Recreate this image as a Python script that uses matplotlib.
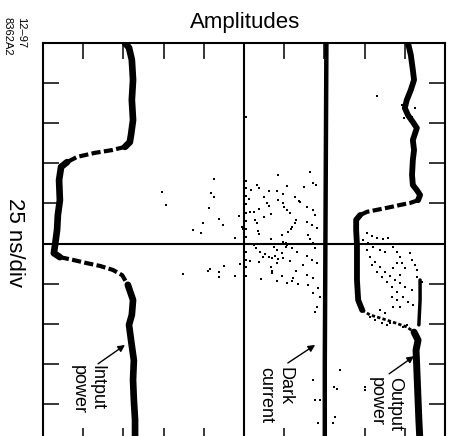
import matplotlib
matplotlib.use("Agg")
import matplotlib.pyplot as plt

plt.rcParams['font.family'] = ['Liberation Sans', 'DejaVu Sans']

# Amplitude (divisions, left→right) versus time (divisions of 25 ns, top→bottom)
input_amp = [2.04, 2.14, 2.21, 2.24, 2.21, 2.24, 2.19, 2.16, 2.04, 1.72, 1.29, 0.85,
             0.60, 0.45, 0.40, 0.42, 0.37, 0.35, 0.30, 0.27, 0.42, 0.75, 1.09, 1.42,
             1.74, 1.97, 2.11, 2.24, 2.21, 2.14, 2.19, 2.26, 2.24, 2.26, 2.29, 2.29]
input_t = [0.00, 0.12, 0.42, 0.92, 1.42, 1.92, 2.29, 2.47, 2.59, 2.67, 2.74, 2.84,
           2.97, 3.09, 3.42, 3.92, 4.29, 4.66, 5.04, 5.24, 5.34, 5.41, 5.49, 5.56,
           5.66, 5.79, 6.03, 6.41, 6.78, 7.03, 7.41, 7.91, 8.40, 8.90, 9.40, 10.0]

dark_amp = [7.05, 7.04, 7.03, 7.02, 7.01, 7.01]
dark_t = [0.0, 2.0, 4.0, 6.0, 8.0, 10.0]

output_amp = [9.08, 9.15, 9.20, 9.23, 9.15, 9.05, 9.00, 9.08, 9.20, 9.30, 9.20, 9.23,
              9.20, 9.18, 9.20, 9.30, 9.38, 9.33, 9.13, 8.88, 8.56, 8.31, 8.06, 7.89,
              7.79, 7.79, 7.81, 7.81, 7.81, 7.84, 7.94, 8.13, 8.46, 8.76, 9.05, 9.23,
              9.33, 9.28, 9.30, 9.33, 9.35, 9.38]
output_t = [0.00, 0.30, 0.67, 0.92, 1.17, 1.42, 1.62, 1.80, 1.97, 2.12, 2.42, 2.67,
            2.92, 3.29, 3.54, 3.67, 3.79, 3.92, 3.99, 4.04, 4.11, 4.16, 4.21, 4.29,
            4.41, 4.66, 5.04, 5.41, 5.91, 6.41, 6.66, 6.78, 6.88, 6.98, 7.08, 7.21,
            7.41, 7.66, 8.15, 8.90, 9.40, 10.0]

# second output branch reached by the slower sweeps
branch_amp = [9.38, 9.38, 9.35]
branch_t = [5.91, 6.41, 7.03]

# isolated samples scattered around the dark-current trace
dark_dots_amp = [4.25, 2.96, 3.06, 4.18, 4.25, 4.13, 4.38, 3.98, 4.48, 3.73, 3.93, 3.48,
                 4.15, 4.10, 4.38, 4.38, 4.50, 4.78, 4.90, 4.78, 4.95, 4.88, 4.98,
                 5.06, 5.06, 5.06, 5.06, 5.06, 5.06, 5.06, 5.06, 5.06, 5.06, 5.06, 5.06,
                 5.12, 5.15, 5.17, 5.32, 5.37, 5.50, 5.57, 5.62, 5.62, 5.85, 5.82, 5.85,
                 5.97, 6.07, 5.97, 6.00, 6.07, 6.14, 6.29, 6.27, 6.27, 6.37, 5.25, 5.37,
                 5.50, 5.67, 5.27, 5.32, 5.35, 5.37, 5.95, 6.09, 6.19, 6.17, 5.67, 5.97,
                 6.07, 6.04, 5.25, 5.30, 5.75, 5.82, 6.04, 6.19, 6.32, 5.40, 5.52, 5.62,
                 5.77, 5.95, 5.97, 5.85, 5.70, 5.47, 5.15, 5.37, 5.82, 6.14, 5.67, 5.70,
                 5.70, 6.29, 5.42, 5.82, 5.95, 6.07, 6.19, 6.22, 6.34,
                 6.64, 6.72, 6.79, 6.49, 6.39, 6.57, 6.72, 6.77, 6.57, 6.69, 6.82, 6.59,
                 6.64, 6.72, 6.77, 6.57, 6.69, 6.82, 6.47, 6.57, 6.72, 6.59, 6.84, 6.72,
                 6.89, 6.82, 6.77, 7.39, 7.24, 7.31, 6.72, 6.77, 6.89, 7.26, 6.84, 7.21,
                 5.06]
dark_dots_t = [3.39, 3.72, 4.04, 3.74, 3.84, 4.11, 4.39, 4.49, 4.54, 4.66, 4.74, 5.76,
               5.64, 5.69, 5.71, 5.84, 5.56, 5.81, 5.51, 4.86, 4.59, 4.31, 4.64,
               3.44, 3.62, 3.82, 4.01, 4.24, 4.44, 4.64, 4.84, 5.21, 5.41, 5.59, 5.81,
               3.89, 4.21, 3.67, 3.54, 3.62, 3.84, 3.99, 4.06, 3.69, 3.29, 3.69, 3.92,
               3.77, 3.57, 3.99, 4.09, 4.16, 4.24, 4.41, 4.49, 3.84, 3.94, 4.21, 4.14,
               4.34, 4.26, 4.41, 4.49, 4.69, 4.76, 4.79, 4.71, 4.59, 4.64, 4.89, 4.96,
               5.04, 4.99, 5.04, 5.11, 5.09, 5.16, 5.09, 5.11, 5.21, 5.21, 5.26, 5.34,
               5.31, 5.24, 5.36, 5.39, 5.36, 5.34, 5.44, 5.46, 5.49, 5.44, 5.59, 5.69,
               5.74, 5.69, 5.89, 5.94, 5.81, 5.99, 5.94, 5.86, 6.01,
               3.22, 3.49, 3.54, 3.59, 3.97, 4.09, 4.16, 4.29, 4.46, 4.54, 4.61, 4.79,
               4.89, 4.99, 5.11, 5.31, 5.41, 5.49, 5.54, 5.79, 5.86, 6.03, 6.11, 6.23,
               6.33, 6.58, 6.71, 8.15, 8.58, 8.63, 8.40, 8.90, 8.90, 9.33, 9.48, 9.48,
               1.85]

# isolated samples of the output sweeps between the two branches
out_dots_amp = [8.06, 8.18, 8.31, 8.46, 8.58, 7.96, 8.08, 8.21, 8.38, 8.51, 8.06, 8.13,
                8.26, 8.38, 8.51, 8.63, 8.76, 8.88, 9.00, 9.18, 8.18, 8.31, 8.43, 8.56,
                8.68, 8.81, 8.96, 9.08, 9.20, 8.71, 8.81, 8.88, 8.93, 9.00, 9.13, 9.18,
                9.25, 9.30, 8.81, 8.71, 8.88, 8.68, 8.81, 8.71, 8.88, 8.38, 8.51, 8.13,
                8.26, 8.43, 8.56, 8.63, 8.96, 9.05, 9.43, 9.30, 8.01, 8.01, 8.31,
                8.93, 9.05, 9.25, 9.18, 8.98]
out_dots_t = [4.74, 4.81, 4.86, 4.89, 4.86, 4.91, 4.99, 5.09, 5.16, 5.21, 5.16, 5.34,
              5.46, 5.59, 5.71, 5.81, 5.91, 5.99, 6.08, 6.16, 5.54, 5.71, 5.84, 5.96,
              6.08, 6.21, 6.33, 6.46, 6.53, 5.09, 5.21, 5.34, 5.49, 5.61, 5.24, 5.41,
              5.54, 5.66, 5.49, 5.61, 5.79, 6.33, 6.41, 6.58, 6.58, 6.66, 6.73, 6.83,
              6.91, 6.98, 7.03, 6.98, 7.08, 7.03, 5.96, 5.84, 8.58, 8.65, 1.32,
              1.55, 1.72, 1.62, 1.85, 1.87]

div_ticks = [1, 2, 3, 4, 5, 6, 7, 8, 9]

fig = plt.figure(figsize=(4.51, 4.36), dpi=100)
ax = fig.add_axes([43 / 451, -8 / 436, 402 / 451, 401 / 436])
ax.set_xlim(0, 10)
ax.set_ylim(10, 0)

for s in ax.spines.values():
    s.set_linewidth(1.5)
ax.set_xticks(div_ticks)
ax.set_yticks(div_ticks)
ax.set_xticklabels([])
ax.set_yticklabels([])
ax.tick_params(direction='in', length=11.5, width=1.1, top=True, right=True,
               bottom=True, left=True)

# graticule centre lines
ax.axhline(5, color='black', lw=1.5, zorder=1)
ax.axvline(5, color='black', lw=1.5, zorder=1)

k = dict(color='black', solid_capstyle='round', solid_joinstyle='round', zorder=3)

# input power: flat parts thick, transitions as dashed streaks
ax.plot(input_amp[:9], input_t[:9], lw=4.8, **k)
ax.plot(input_amp[8:13], input_t[8:13], lw=3.0, ls=(0, (2.2, 0.8)), color='black', zorder=3)
ax.plot(input_amp[12:21], input_t[12:21], lw=4.8, **k)
ax.plot(input_amp[20:27], input_t[20:27], lw=3.0, ls=(0, (2.2, 0.8)), color='black', zorder=3)
ax.plot(input_amp[26:], input_t[26:], lw=4.8, **k)

# dark current
ax.plot(dark_amp, dark_t, lw=3.2, **k)

# output power
ax.plot(output_amp[:18], output_t[:18], lw=4.2, **k)
ax.plot(output_amp[17:24], output_t[17:24], lw=3.0, ls=(0, (2.2, 0.8)), color='black', zorder=3)
ax.plot(output_amp[23:31], output_t[23:31], lw=4.2, **k)
ax.plot(output_amp[30:36], output_t[30:36], lw=2.0, ls=(0, (1.2, 0.8)), color='black', zorder=3)
ax.plot(output_amp[35:], output_t[35:], lw=5.0, **k)
ax.plot(branch_amp, branch_t, lw=2.5, **k)

ax.scatter(dark_dots_amp, dark_dots_t, s=3.5, marker='s', color='black', linewidths=0, zorder=3)
ax.scatter(out_dots_amp, out_dots_t, s=3.5, marker='s', color='black', linewidths=0, zorder=3)

# trace labels with pointer arrows
labels = [("Intput\npower", 1.12, 8.03, (1.37, 8.00), (2.04, 7.53)),
          ("Dark\ncurrent", 5.78, 8.08, (6.09, 7.98), (6.77, 7.53)),
          ("Output\npower", 8.52, 8.33, (8.61, 8.25), (9.23, 7.81))]
for txt, lx, ly, tail, head in labels:
    ax.text(lx, ly, txt, rotation=-90, ha='center', va='top', multialignment='left',
            fontsize=13, linespacing=1.12, zorder=4)
    ax.annotate("", xy=head, xytext=tail,
                arrowprops=dict(arrowstyle='-|>', lw=1.0, color='black',
                                mutation_scale=10, shrinkA=0, shrinkB=0), zorder=4)

fig.text(245 / 451, 1 - 28 / 436, "Amplitudes", ha='center', va='baseline', fontsize=16)
fig.text(14 / 451, 1 - 242 / 436, "25 ns/div", rotation=-90, ha='center', va='center',
         fontsize=16)
fig.text(14 / 451, 1 - 17 / 436, "12\u201397\n8362A2", rotation=-90, ha='center', va='top',
         multialignment='left', fontsize=8, linespacing=1.45)

fig.savefig("out.png", dpi=100)
